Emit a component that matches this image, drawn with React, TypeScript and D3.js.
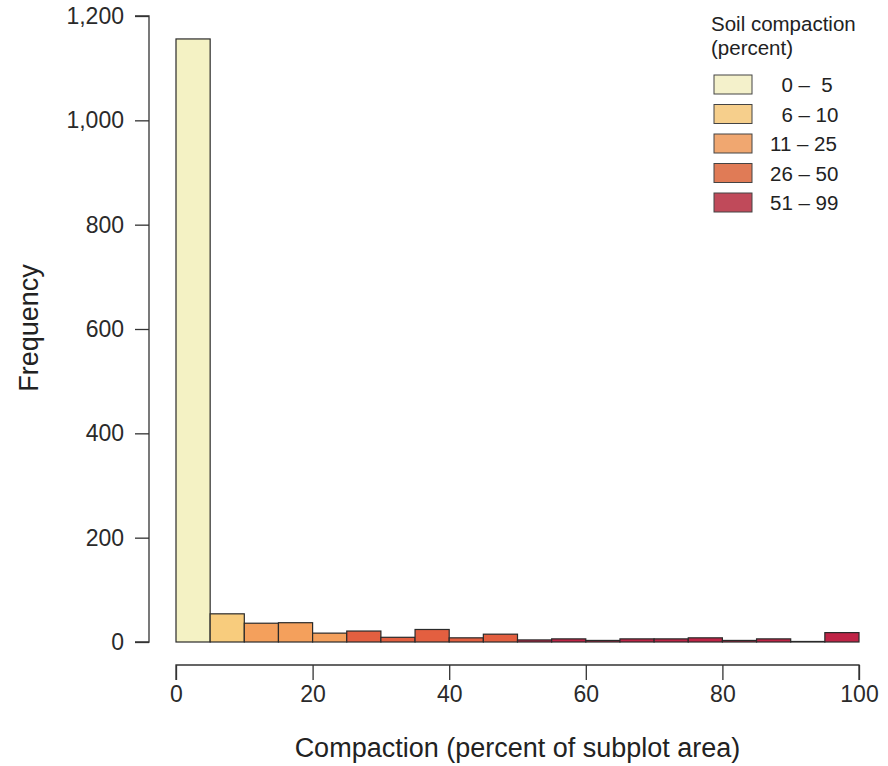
import * as d3 from 'd3';
import { useEffect, useRef } from 'react';

const binStarts = [0, 5, 10, 15, 20, 25, 30, 35, 40, 45, 50, 55, 60, 65, 70, 75, 80, 85, 90, 95];
const counts = [1156, 54, 36, 37, 17, 21, 9, 24, 8, 15, 4, 6, 3, 6, 6, 8, 3, 6, 1, 18];
// which legend class each bin falls in
const binClass = [0, 1, 2, 2, 2, 3, 3, 3, 3, 3, 4, 4, 4, 4, 4, 4, 4, 4, 4, 4];

// figure / punctuation spaces keep the digits lined up
const classLabels = ['\u20070 \u2013 \u20085', '\u20076 \u2013 10', '11 \u2013 25', '26 \u2013 50', '51 \u2013 99'];
const barColors = ['#f4f2c4', '#f8cc7d', '#f4a05c', '#e35f40', '#bf2446'];
const legendColors = ['#f4f1cb', '#f6cf8c', '#f0a770', '#e07b56', '#c04a5a'];

const yTicks = [0, 200, 400, 600, 800, 1000, 1200];
const xTicks = [0, 20, 40, 60, 80, 100];

export default function App() {
  const svgRef = useRef<SVGSVGElement>(null);

  useEffect(() => {
    drawChart(svgRef.current!);
  }, []);

  return (
    <svg ref={svgRef} width={888} height={766} style={{ position: 'absolute', left: 0, top: 0 }}></svg>
  );
}

function drawChart(el: SVGSVGElement) {
  const font = 'Liberation Sans, Arial, sans-serif';
  const svg = d3.select(el);
  svg.selectAll('*').remove();

  const x = d3.scaleLinear().domain([0, 100]).range([176, 859]);
  const y = d3.scaleLinear().domain([0, 1200]).range([642, 16]);

  // y axis
  const yAxis = svg.append('g').attr('transform', 'translate(149,0)')
    .call(d3.axisLeft(y).tickValues(yTicks).tickSize(14).tickPadding(11).tickFormat(d3.format(',')));
  yAxis.select('.domain').attr('d', `M-14,${y(1200)}H0V${y(0)}H-14`);

  // x axis
  const xAxis = svg.append('g').attr('transform', 'translate(0,665)')
    .call(d3.axisBottom(x).tickValues(xTicks).tickSize(15).tickPadding(6));
  xAxis.select('.domain').attr('d', `M${x(0)},15V0H${x(100)}V15`);

  svg.selectAll('.domain, .tick line').attr('stroke', '#333').attr('stroke-width', 1.3);
  svg.selectAll('.tick text').attr('fill', '#2a2a2a').attr('font-size', 23).attr('font-family', font);

  // bars
  svg.append('g').selectAll('rect')
    .data(counts)
    .enter()
    .append('rect')
    .attr('x', (d, i) => x(binStarts[i]))
    .attr('width', (d, i) => x(binStarts[i] + 5) - x(binStarts[i]))
    .attr('y', d => y(d))
    .attr('height', d => y(0) - y(d))
    .attr('fill', (d, i) => barColors[binClass[i]])
    .attr('stroke', '#2a2a2a')
    .attr('stroke-width', 1.2);

  // axis titles
  svg.append('text')
    .attr('x', x(50)).attr('y', 757)
    .attr('text-anchor', 'middle')
    .attr('font-size', 27).attr('font-family', font).attr('fill', '#222')
    .text('Compaction (percent of subplot area)');

  svg.append('text')
    .attr('transform', 'translate(38,328) rotate(-90)')
    .attr('text-anchor', 'middle')
    .attr('font-size', 27).attr('font-family', font).attr('fill', '#222')
    .text('Frequency');

  // legend
  const lg = svg.append('g');
  lg.append('text').attr('x', 711).attr('y', 31)
    .attr('font-size', 20.5).attr('font-family', font).attr('fill', '#222')
    .text('Soil compaction');
  lg.append('text').attr('x', 711).attr('y', 55)
    .attr('font-size', 20.5).attr('font-family', font).attr('fill', '#222')
    .text('(percent)');

  const items = lg.selectAll('g.item')
    .data(classLabels)
    .enter()
    .append('g')
    .attr('transform', (d, i) => `translate(714,${75 + i * 29.5})`);

  items.append('rect')
    .attr('width', 38).attr('height', 19)
    .attr('fill', (d, i) => legendColors[i])
    .attr('stroke', '#444').attr('stroke-width', 1);

  items.append('text')
    .attr('x', 56).attr('y', 17)
    .attr('font-size', 20.5).attr('font-family', font).attr('fill', '#222')
    .style('white-space', 'pre')
    .text(d => d);
}
